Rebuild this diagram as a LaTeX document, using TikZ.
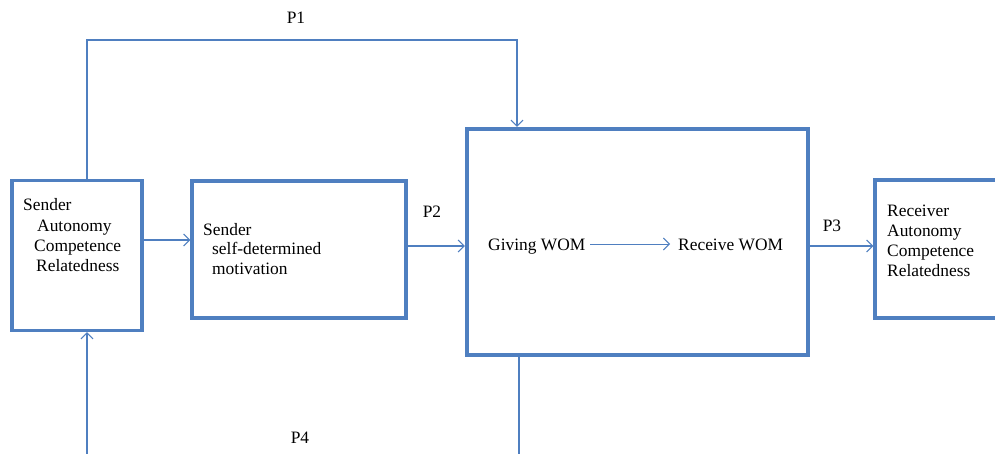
\documentclass[tikz,border=0pt]{standalone}
\usepackage{fontspec}
\setmainfont{Liberation Serif}
\usetikzlibrary{arrows.meta}
\definecolor{ofblue}{HTML}{4F7FC0}
\tikzset{
  box/.style={draw=ofblue, line width=3.3pt, rectangle, inner sep=0pt},
  bigbox/.style={draw=ofblue, line width=4.2pt, rectangle, inner sep=0pt},
  conn/.style={draw=ofblue, line width=1.3pt},
  arr/.style={conn, -{Straight Barb[length=6pt,width=12pt,line width=1.1pt]}},
  txt/.style={anchor=base west, inner sep=0pt, font=\fontsize{17.4}{20}\selectfont},
  lbl/.style={inner sep=0pt, font=\fontsize{17.4}{20}\selectfont}
}
\begin{document}
\begin{tikzpicture}[x=1pt,y=-1pt]
\useasboundingbox (0,0) rectangle (995,453);
\clip (0,0) rectangle (995,453);
\fill[white] (0,0) rectangle (995,453);
% boxes
\node[box, minimum width=130pt, minimum height=150pt] (A) at (77,255.5) {};
\node[box, minimum width=214pt, minimum height=137pt] (B) at (299,249.5) {};
\node[bigbox, minimum width=341pt, minimum height=226pt] (C) at (637.5,242) {};
\node[box, minimum width=140pt, minimum height=138pt] (D) at (945,249) {};
% texts
\node[txt] (a1) at (23,210) {Sender};
\node[txt] (a2) at (37,231) {Autonomy};
\node[txt] (a3) at (34,251) {Competence};
\node[txt] (a4) at (36,271) {Relatedness};
\node[txt] (b1) at (203,235) {Sender};
\node[txt] (b2) at (212,254) {self-determined};
\node[txt] (b3) at (212,274) {motivation};
\node[txt] (g) at (488,250) {Giving WOM};
\node[txt] (r) at (678,250) {Receive WOM};
\node[txt] (d1) at (887,216) {Receiver};
\node[txt] (d2) at (887,236) {Autonomy};
\node[txt] (d3) at (887,256) {Competence};
\node[txt] (d4) at (887,276) {Relatedness};
\node[lbl] (P1) at (296,18) {P1};
\node[lbl] (P2) at (432,212) {P2};
\node[lbl] (P3) at (832,226) {P3};
\node[lbl] (P4) at (300,438) {P4};
% coordinates
\coordinate (p1l) at (87,40);
\coordinate (p1r) at (517,40);
\coordinate (p4l) at (87,460);
\coordinate (p4r) at (519,460);
% connectors
\draw[arr] (A.north -| p1l) -- (p1l) -- (p1r) -- (C.north -| p1r);
\draw[arr] (A.east |- 0,240) -- (B.west |- 0,240);
\draw[arr] (B.east |- 0,246) -- (C.west |- 0,246);
\draw[arr] (C.east |- 0,246) -- (D.west |- 0,246);
\draw[conn, line width=0.9pt, -{Straight Barb[length=6pt,width=12pt,line width=0.9pt]}] (590,244) -- (670,244);
\draw[arr] (p4l) -- (A.south -| p4l);
\draw[conn] (C.south -| p4r) -- (p4r);
\end{tikzpicture}
\end{document}
